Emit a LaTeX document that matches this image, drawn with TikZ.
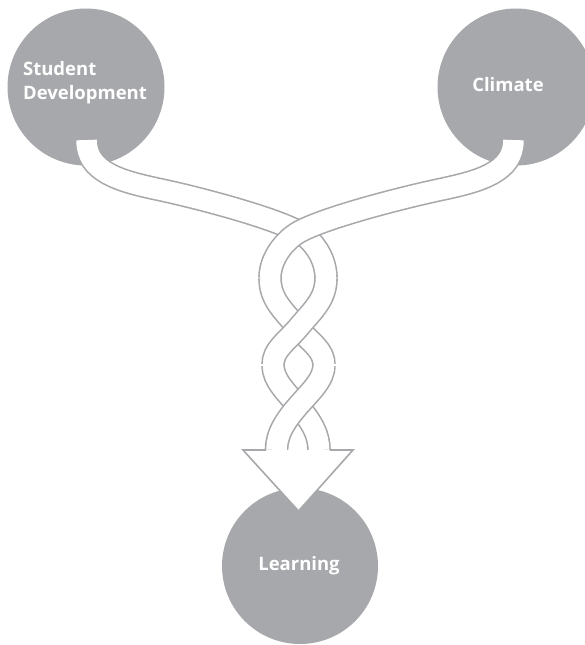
\documentclass[tikz,border=0pt]{standalone}
\usepackage{fontspec}
\setmainfont{Open Sans}
\definecolor{cgray}{RGB}{167,168,171}
\begin{document}
\begin{tikzpicture}[x=1pt,y=1pt,
  bubble/.style={circle, fill=cgray, minimum size=157pt, inner sep=0pt},
  lbl/.style={text=white, font=\bfseries\fontsize{18.5}{24}\selectfont, inner sep=0pt},
  ribbon/.style={draw=cgray, line width=1.6pt, double=white, double distance=20.5pt},
  patch/.style={draw=white, line width=19pt},
  edge/.style={draw=cgray, line width=1.6pt, line join=miter}]
\useasboundingbox (0,0) rectangle (585,-645);
\clip (0,0) rectangle (585,-645);
% circles
\node[bubble] (sd) at (86,-87) {};
\node[bubble] (cl) at (516,-87) {};
\node[bubble, minimum size=156pt] (lr) at (300,-566) {};
% labels
\node[lbl, align=left] (sdt) at (85,-83) {Student\\Development};
\node[lbl] (clt) at (508,-85) {Climate};
\node[lbl] (lrt) at (299,-566) {Learning};
% braid coordinates
\coordinate (sa) at (86.5,-140);
\coordinate (sb) at (513.5,-140);
\coordinate (c1) at (299,-232);
\coordinate (c2) at (298,-328);
\coordinate (c3) at (298,-406);
\coordinate (l1) at (270,-278);
\coordinate (r1) at (326,-278);
\coordinate (l2) at (273,-365);
\coordinate (r2) at (324,-365);
\coordinate (bl) at (276.5,-450);
\coordinate (br) at (319,-450);
% strands (drawn in over/under order)
\draw[ribbon] (sa) .. controls (86.5,-172) and (120,-181) .. (157,-189)
  .. controls (200,-198) and (274,-218) .. (c1)
  .. controls (313,-240) and (326,-258) .. (r1);
\draw[ribbon] (sb) .. controls (513.5,-172) and (480,-181) .. (443,-189)
  .. controls (400,-198) and (324,-218) .. (c1)
  .. controls (285,-240) and (270,-258) .. (l1);
\draw[ribbon] (l1) .. controls (270,-300) and (284,-311) .. (c2)
  .. controls (311,-343) and (324,-350) .. (r2);
\draw[ribbon] (r1) .. controls (326,-300) and (312,-311) .. (c2)
  .. controls (285,-343) and (273,-350) .. (l2);
\draw[ribbon] (l2) .. controls (273,-380) and (286,-392) .. (c3)
  .. controls (312,-422) and (319,-435) .. (br);
\draw[ribbon] (r2) .. controls (324,-380) and (310,-392) .. (c3)
  .. controls (284,-422) and (276.5,-435) .. (bl);
% hide the joins between strand pieces
\draw[patch] ([yshift=6pt]l1) -- ([yshift=-6pt]l1);
\draw[patch] ([yshift=6pt]r1) -- ([yshift=-6pt]r1);
\draw[patch] ([yshift=6pt]l2) -- ([yshift=-6pt]l2);
\draw[patch] ([yshift=6pt]r2) -- ([yshift=-6pt]r2);
% arrow head
\coordinate (hl) at (243,-450);
\coordinate (hr) at (353,-450);
\coordinate (ha) at (298.5,-511);
\fill[white] (hl) -- (ha) -- (hr) -- cycle;
\draw[edge] (266,-450) -- (hl) -- (ha) -- (hr) -- (329.5,-450);
\end{tikzpicture}
\end{document}
